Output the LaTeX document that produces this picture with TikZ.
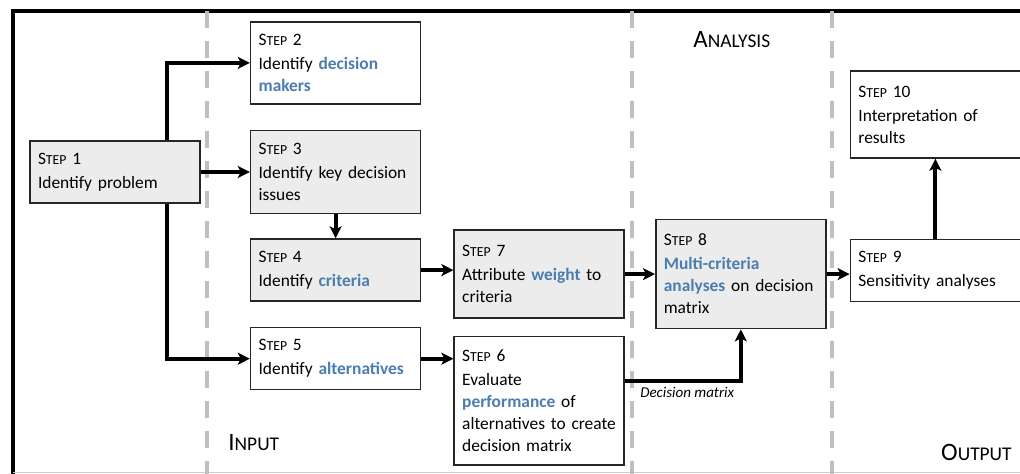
\documentclass[tikz,border=0pt]{standalone}
\usepackage{fontspec}
\setmainfont{Carlito}
\usetikzlibrary{positioning,calc,arrows.meta}

\definecolor{keyblue}{RGB}{74,126,176}
\definecolor{boxgrey}{RGB}{236,236,236}
\definecolor{zonegrey}{RGB}{191,191,191}

\newcommand\smallcap[3][6.9]{#2{\fontsize{#1}{8}\selectfont #3}}
\newcommand\steplbl[1]{\smallcap{S}{TEP}~#1\\[1pt]}
\newcommand\kw[1]{\textbf{\color{keyblue}#1}}

\begin{document}
\begin{tikzpicture}[
        x=0.5pt, y=-0.5pt,
        node distance=12.5pt,
        box/.style={draw=black!85, line width=0.8pt, fill=white, align=left, text width=77pt, inner xsep=4pt, inner ysep=0pt, font=\fontsize{8.7}{11}\selectfont},
        greybox/.style={box, fill=boxgrey},
        flow/.style={line width=2pt, -{Stealth[length=6pt, width=6pt, inset=1.5pt]}},
        zone/.style={draw=zonegrey, line width=2pt, dash pattern=on 8.5pt off 6.5pt},
        zonetag/.style={inner sep=0pt, font=\fontsize{12.5}{14}\selectfont}
      ]
      \useasboundingbox (0,0) rectangle (1020,474);

      % frame and zones
      \draw[line width=2pt] (1020,11) -- (12.5,11) -- (12.5,474);
      \draw[black!20, line width=0.5pt] (12.5,472.5) -- (1020,472.5);
      \foreach \x in {207,632,832} \draw[zone] (\x,11) -- (\x,474);

      \node (In) [zonetag, anchor=base west] at (228,451) {\smallcap[9.7]{I}{NPUT}};
      \node (An) [zonetag, anchor=base west] at (693,48) {\smallcap[9.7]{A}{NALYSIS}};
      \node (Out) [zonetag, anchor=base east] at (1012,460) {\smallcap[9.7]{O}{UTPUT}};

      % steps
      \node (S1) [greybox, minimum height=31pt] at (115,172) {\steplbl{1}Identify problem};
      \node (S3) [greybox, minimum height=41.5pt, right=24.5pt of S1] {\steplbl{3}Identify key decision\\issues};
      \node (S2) [box, minimum height=41pt, above=of S3] {\steplbl{2}Identify \kw{decision}\\\kw{makers}};
      \node (S4) [greybox, minimum height=31pt, below=12pt of S3] {\steplbl{4}Identify \kw{criteria}};
      \node (S5) [box, minimum height=31pt, below=of S4] {\steplbl{5}Identify \kw{alternatives}};
      \node (S7) [greybox, minimum height=44pt, right=16pt of S4, yshift=-2pt] {\steplbl{7}Attribute \kw{weight} to\\criteria};
      \node (S6) [box, minimum height=64pt, below=8.5pt of S7] {\steplbl{6}Evaluate\\\kw{performance} of\\alternatives to create\\decision matrix};
      \node (S8) [greybox, minimum height=54.5pt, right=15pt of S7] {\steplbl{8}\kw{Multi-criteria}\\\kw{analyses} on decision\\matrix};
      \node (S9) [box, minimum height=31pt, right=11.5pt of S8, yshift=1.75pt] {\steplbl{9}Sensitivity analyses};
      \node (S10) [box, minimum height=43.5pt, above=40pt of S9] {\steplbl{10}Interpretation of\\results};

      % flows
      \coordinate (T) at ($(S1.east)+(-34,0)$);
      \draw[flow] (T |- S1.north) |- (S2);
      \draw[flow] (T |- S1.south) |- (S5);
      \draw[flow] (S1) -- (S3);
      \draw[flow] (S3) -- (S4);
      \draw[flow] (S4.east) -- (S4.east -| S7.west);
      \draw[flow] (S5.east) -- (S5.east -| S6.west);
      \draw[flow] (S7.east) -- (S7.east -| S8.west);
      \draw[flow] (S8.east) -- (S8.east -| S9.west);
      \draw[flow] (S9) -- (S10);
      \draw[flow] ([yshift=10pt]S6.east) -| node[pos=0.04, anchor=north west, inner sep=2pt, font=\fontsize{7.5}{8}\selectfont\itshape] {Decision matrix} (S8);

    \end{tikzpicture}
\end{document}
